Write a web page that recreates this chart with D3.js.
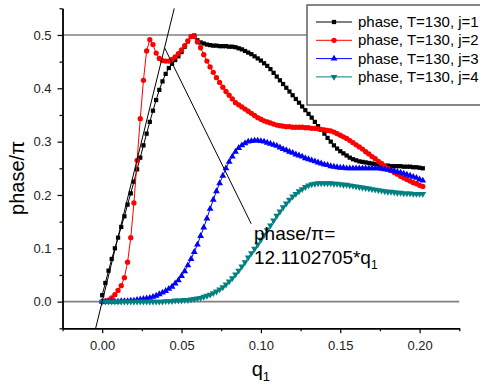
<!DOCTYPE html>
<html>
<head>
<meta charset="utf-8">
<script src="https://cdn.jsdelivr.net/npm/d3@7"></script>
<style>
  body { margin: 0; background: #fff; }
  text { font-family: Arial, "Liberation Sans", sans-serif; }
</style>
</head>
<body>
<svg id="chart" width="480" height="389"></svg>
<script>
'use strict';

// q1 grid shared by all four curves
var q1 = [
  0.000, 0.002, 0.004, 0.006, 0.008, 0.010, 0.012, 0.014, 0.016, 0.018,
  0.020, 0.022, 0.024, 0.026, 0.028, 0.030, 0.032, 0.034, 0.036, 0.038,
  0.040, 0.042, 0.044, 0.046, 0.048, 0.050, 0.052, 0.054, 0.056, 0.058,
  0.060, 0.062, 0.064, 0.066, 0.068, 0.070, 0.072, 0.074, 0.076, 0.078,
  0.080, 0.082, 0.084, 0.086, 0.088, 0.090, 0.092, 0.094, 0.096, 0.098,
  0.100, 0.102, 0.104, 0.106, 0.108, 0.110, 0.112, 0.114, 0.116, 0.118,
  0.120, 0.122, 0.124, 0.126, 0.128, 0.130, 0.132, 0.134, 0.136, 0.138,
  0.140, 0.142, 0.144, 0.146, 0.148, 0.150, 0.152, 0.154, 0.156, 0.158,
  0.160, 0.162, 0.164, 0.166, 0.168, 0.170, 0.172, 0.174, 0.176, 0.178,
  0.180, 0.182, 0.184, 0.186, 0.188, 0.190, 0.192, 0.194, 0.196, 0.198,
  0.200, 0.202
];

var phaseJ1 = [
  0.012, 0.035, 0.058, 0.080, 0.100, 0.120, 0.140, 0.160, 0.182, 0.203,
  0.225, 0.248, 0.270, 0.293, 0.315, 0.337, 0.358, 0.378, 0.397, 0.413,
  0.427, 0.438, 0.446, 0.453, 0.460, 0.468, 0.478, 0.488, 0.497, 0.499,
  0.490, 0.486, 0.484, 0.482, 0.481, 0.480, 0.480, 0.479, 0.479, 0.479,
  0.478, 0.478, 0.477, 0.475, 0.473, 0.470, 0.467, 0.464, 0.460, 0.456,
  0.452, 0.447, 0.442, 0.436, 0.429, 0.422, 0.415, 0.408, 0.401, 0.394,
  0.387, 0.380, 0.373, 0.366, 0.359, 0.352, 0.345, 0.337, 0.329, 0.322,
  0.315, 0.307, 0.300, 0.293, 0.287, 0.282, 0.278, 0.274, 0.270, 0.267,
  0.265, 0.263, 0.262, 0.261, 0.260, 0.259, 0.258, 0.257, 0.256, 0.255,
  0.255, 0.254, 0.254, 0.254, 0.254, 0.253, 0.253, 0.253, 0.252, 0.252,
  0.251, 0.250
];

var phaseJ2 = [
  0.000, 0.001, 0.003, 0.007, 0.013, 0.021, 0.030, 0.045, 0.074, 0.120,
  0.185, 0.265, 0.343, 0.415, 0.470, 0.491, 0.482, 0.466, 0.456, 0.452,
  0.451, 0.451, 0.454, 0.459, 0.465, 0.472, 0.480, 0.489, 0.497, 0.497,
  0.487, 0.476, 0.463, 0.451, 0.440, 0.430, 0.420, 0.411, 0.402, 0.394,
  0.387, 0.380, 0.373, 0.369, 0.365, 0.361, 0.357, 0.353, 0.349, 0.345,
  0.342, 0.339, 0.337, 0.335, 0.333, 0.331, 0.330, 0.329, 0.328, 0.328,
  0.327, 0.327, 0.327, 0.327, 0.326, 0.326, 0.325, 0.325, 0.324, 0.323,
  0.322, 0.321, 0.320, 0.318, 0.315, 0.312, 0.309, 0.306, 0.302, 0.298,
  0.294, 0.290, 0.286, 0.281, 0.277, 0.272, 0.268, 0.263, 0.259, 0.254,
  0.250, 0.246, 0.242, 0.239, 0.235, 0.232, 0.229, 0.226, 0.223, 0.221,
  0.218, 0.216
];

var phaseJ3 = [
  0.000, 0.000, 0.000, 0.000, 0.000, 0.000, 0.001, 0.001, 0.001, 0.002,
  0.002, 0.003, 0.004, 0.005, 0.006, 0.007, 0.009, 0.011, 0.014, 0.017,
  0.020, 0.024, 0.028, 0.034, 0.040, 0.048, 0.057, 0.068, 0.080, 0.093,
  0.107, 0.123, 0.139, 0.156, 0.174, 0.191, 0.207, 0.222, 0.236, 0.250,
  0.262, 0.272, 0.281, 0.288, 0.293, 0.297, 0.300, 0.301, 0.302, 0.302,
  0.301, 0.300, 0.298, 0.296, 0.294, 0.292, 0.289, 0.286, 0.284, 0.281,
  0.279, 0.276, 0.274, 0.272, 0.269, 0.267, 0.265, 0.263, 0.261, 0.259,
  0.257, 0.256, 0.254, 0.253, 0.252, 0.251, 0.251, 0.250, 0.250, 0.250,
  0.250, 0.250, 0.250, 0.250, 0.250, 0.250, 0.250, 0.250, 0.249, 0.248,
  0.247, 0.246, 0.245, 0.243, 0.242, 0.240, 0.238, 0.236, 0.234, 0.232,
  0.229, 0.227
];

var phaseJ4 = [
  0.000, 0.000, 0.000, 0.000, 0.000, 0.000, 0.000, 0.000, 0.000, 0.000,
  0.000, 0.000, 0.000, 0.000, 0.000, 0.000, 0.000, 0.000, 0.000, 0.000,
  0.001, 0.001, 0.001, 0.002, 0.002, 0.002, 0.003, 0.003, 0.004, 0.005,
  0.006, 0.007, 0.009, 0.011, 0.013, 0.016, 0.019, 0.023, 0.027, 0.032,
  0.038, 0.044, 0.051, 0.058, 0.066, 0.074, 0.083, 0.091, 0.099, 0.107,
  0.116, 0.125, 0.134, 0.143, 0.152, 0.161, 0.169, 0.177, 0.184, 0.191,
  0.197, 0.202, 0.207, 0.211, 0.215, 0.218, 0.220, 0.221, 0.222, 0.222,
  0.222, 0.222, 0.222, 0.221, 0.221, 0.220, 0.219, 0.219, 0.218, 0.217,
  0.216, 0.215, 0.214, 0.213, 0.212, 0.211, 0.210, 0.209, 0.208, 0.207,
  0.206, 0.206, 0.205, 0.204, 0.204, 0.203, 0.203, 0.203, 0.202, 0.202,
  0.202, 0.202
];

var seriesNames = [
  'phase, T=130, j=1',
  'phase, T=130, j=2',
  'phase, T=130, j=3',
  'phase, T=130, j=4'
];

var xMajorTicks = [0, 0.05, 0.10, 0.15, 0.20];
var xMinorTicks = [-0.025, 0.025, 0.075, 0.125, 0.175, 0.225];
var yMajorTicks = [0, 0.1, 0.2, 0.3, 0.4, 0.5];
var yMinorTicks = [-0.05, 0.05, 0.15, 0.25, 0.35, 0.45, 0.55];
var refLevels = [0, 0.5];

// linear fit drawn across the plot, plus the pointer to its label
var fitSlope = 12.1102705;
var fitQ = [-0.0041, 0.0454];
var pointerQ = [0.0393, 0.0939];
var pointerValue = [0.476, 0.146];

var series = [
  {values: phaseJ1, color: '#000000', symbol: d3.symbolSquare, size: 18, rotate: 0},
  {values: phaseJ2, color: '#ff0000', symbol: d3.symbolCircle, size: 22, rotate: 0},
  {values: phaseJ3, color: '#0000ff', symbol: d3.symbolTriangle, size: 20, rotate: 0},
  {values: phaseJ4, color: '#008080', symbol: d3.symbolTriangle, size: 20, rotate: 180}
];

function translate(x, y) {
  return 'translate(' + x + ', ' + y + ')';
}

var svg = d3.select('#chart');

var x = d3.scaleLinear().domain([-0.025, 0.225]).range([62.5, 459.3]);
var y = d3.scaleLinear().domain([-0.05, 0.55]).range([328.3, 8.3]);

// grey reference levels at 0 and 0.5
svg.append('g')
  .selectAll('line')
  .data(refLevels)
  .enter()
  .append('line')
  .attr('x1', x.range()[0])
  .attr('x2', x.range()[1])
  .attr('y1', function (d) { return y(d); })
  .attr('y2', function (d) { return y(d); })
  .style('stroke', '#808080')
  .style('stroke-width', 1.6);

function styleAxis(g) {
  g.select('.domain').style('stroke', '#000').style('stroke-width', 1.4);
  g.selectAll('.tick line').style('stroke', '#000').style('stroke-width', 1.2);
  g.selectAll('.tick text')
    .style('font-family', 'Arial, "Liberation Sans", sans-serif')
    .style('font-size', '13px')
    .style('fill', '#222');
}

var xAxis = svg.append('g')
  .attr('transform', translate(0, y.range()[0]))
  .call(d3.axisBottom(x).tickValues(xMajorTicks).tickFormat(d3.format('.2f'))
    .tickSizeInner(5).tickSizeOuter(0).tickPadding(7));
styleAxis(xAxis);

var xMinor = svg.append('g')
  .attr('transform', translate(0, y.range()[0]))
  .call(d3.axisBottom(x).tickValues(xMinorTicks).tickFormat('')
    .tickSizeInner(3).tickSizeOuter(0));
styleAxis(xMinor);

var yAxis = svg.append('g')
  .attr('transform', translate(x.range()[0], 0))
  .call(d3.axisLeft(y).tickValues(yMajorTicks).tickFormat(d3.format('.1f'))
    .tickSizeInner(5).tickSizeOuter(0).tickPadding(6));
styleAxis(yAxis);

var yMinor = svg.append('g')
  .attr('transform', translate(x.range()[0], 0))
  .call(d3.axisLeft(y).tickValues(yMinorTicks).tickFormat('')
    .tickSizeInner(3).tickSizeOuter(0));
styleAxis(yMinor);

// curves with markers
var line = d3.line()
  .x(function (d) { return x(d[0]); })
  .y(function (d) { return y(d[1]); });

series.forEach(function (s) {
  var pts = q1.map(function (q, i) { return [q, s.values[i]]; });
  var g = svg.append('g');

  g.append('path')
    .datum(pts)
    .attr('d', line)
    .style('fill', 'none')
    .style('stroke', s.color)
    .style('stroke-width', 1);

  g.selectAll('path.mark')
    .data(pts)
    .enter()
    .append('path')
    .attr('class', 'mark')
    .attr('d', d3.symbol().type(s.symbol).size(s.size))
    .attr('transform', function (d) {
      return translate(x(d[0]), y(d[1])) + ' rotate(' + s.rotate + ')';
    })
    .style('fill', s.color);
});

// fit line and pointer
svg.append('line')
  .attr('x1', x(fitQ[0]))
  .attr('y1', y(fitSlope * fitQ[0]))
  .attr('x2', x(fitQ[1]))
  .attr('y2', y(fitSlope * fitQ[1]))
  .style('stroke', '#000')
  .style('stroke-width', 1);

svg.append('line')
  .attr('x1', x(pointerQ[0]))
  .attr('y1', y(pointerValue[0]))
  .attr('x2', x(pointerQ[1]))
  .attr('y2', y(pointerValue[1]))
  .style('stroke', '#000')
  .style('stroke-width', 1);

var note = svg.append('text')
  .attr('x', 254)
  .attr('y', 240)
  .style('font-size', '19px')
  .style('fill', '#000');
note.append('tspan').text('phase/\u03c0=');
var note2 = svg.append('text')
  .attr('x', 254)
  .attr('y', 264)
  .style('font-size', '19px')
  .style('fill', '#000');
note2.append('tspan').text('12.1102705*q');
note2.append('tspan').attr('dy', 5).style('font-size', '12px').text('1');

// axis titles
svg.append('text')
  .attr('transform', translate(24, 178) + ' rotate(-90)')
  .attr('text-anchor', 'middle')
  .style('font-size', '20px')
  .text('phase/\u03c0');

var xt = svg.append('text')
  .attr('x', (x.range()[0] + x.range()[1]) / 2)
  .attr('y', 376)
  .attr('text-anchor', 'middle')
  .style('font-size', '20px');
xt.append('tspan').text('q');
xt.append('tspan').attr('dy', 5).style('font-size', '13px').text('1');

// legend, cut off by the right edge like the original
var legend = svg.append('g');
legend.append('rect')
  .attr('x', 307)
  .attr('y', 5)
  .attr('width', 200)
  .attr('height', 100)
  .style('fill', '#fff')
  .style('stroke', '#555')
  .style('stroke-width', 1.4);

var rows = legend.selectAll('g.row')
  .data(series)
  .enter()
  .append('g')
  .attr('class', 'row')
  .attr('transform', function (d, i) { return translate(0, 22 + i * 18.3); });

rows.append('line')
  .attr('x1', 316)
  .attr('x2', 352)
  .style('stroke', function (d) { return d.color; })
  .style('stroke-width', 1);

rows.append('path')
  .attr('d', function (d) { return d3.symbol().type(d.symbol).size(d.size)(); })
  .attr('transform', function (d) { return translate(334, 0) + ' rotate(' + d.rotate + ')'; })
  .style('fill', function (d) { return d.color; });

rows.append('text')
  .attr('x', 358)
  .attr('y', 5)
  .style('font-size', '15px')
  .text(function (d, i) { return seriesNames[i]; });
</script>
</body>
</html>
